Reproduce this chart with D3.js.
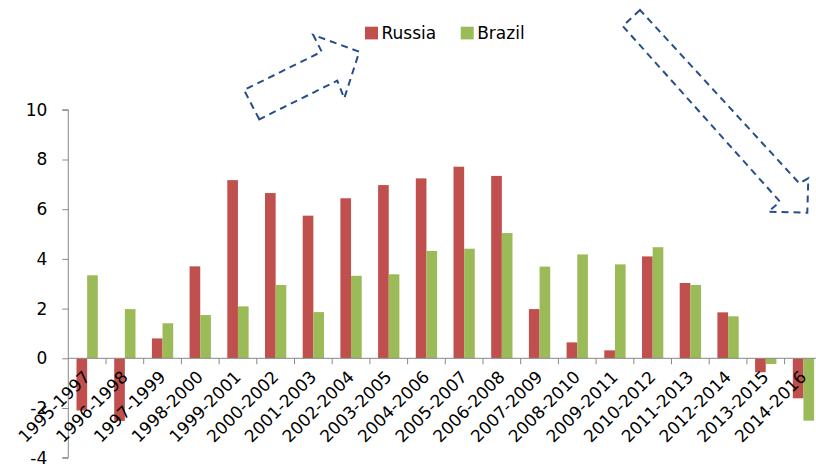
<!DOCTYPE html>
<html>
  <head>
    <meta charset="utf-8">
    <script src="https://d3js.org/d3.v7.min.js"></script>
    <style>
      body { margin: 0; background: #fff; }
      text { font-family: "DejaVu Sans", Verdana, sans-serif; fill: #000; }
    </style>
  </head>
  <body>
  <svg width="816" height="464"></svg>
  <script>

    // chart data
    var categories = ["1995-1997", "1996-1998", "1997-1999", "1998-2000", "1999-2001",
                      "2000-2002", "2001-2003", "2002-2004", "2003-2005", "2004-2006",
                      "2005-2007", "2006-2008", "2007-2009", "2008-2010", "2009-2011",
                      "2010-2012", "2011-2013", "2012-2014", "2013-2015", "2014-2016"];
    var russia = [-2.1, -2.52, 0.8, 3.7, 7.17, 6.65, 5.74, 6.44, 6.97, 7.24,
                  7.71, 7.34, 1.98, 0.64, 0.32, 4.1, 3.03, 1.85, -0.56, -1.61];
    var brazil = [3.34, 1.98, 1.41, 1.74, 2.09, 2.95, 1.86, 3.32, 3.38, 4.32,
                  4.41, 5.04, 3.69, 4.18, 3.78, 4.47, 2.95, 1.69, -0.23, -2.51];
    var seriesNames = ["Russia", "Brazil"];
    var yTicks = [-4, -2, 0, 2, 4, 6, 8, 10];

    var colors = { Russia: "#C0504D", Brazil: "#9BBB59" };
    var axisColor = "#898989";

    var svg = d3.select("svg");

    // scales
    var x0 = d3.scaleBand().domain(categories).range([68.3, 822.3]).padding(0);
    var x1 = d3.scaleBand().domain(seriesNames).range([0, x0.bandwidth()])
      .paddingInner(0).paddingOuter(0.77);
    var y = d3.scaleLinear().domain([-4, 10]).range([457.7, 109.8]);

    var rows = categories.map(function(c, i) {
      return { cat: c, values: [
        { key: "Russia", value: russia[i] },
        { key: "Brazil", value: brazil[i] }
      ]};
    });

    // bars
    var groups = svg.append("g").selectAll("g")
      .data(rows)
      .enter().append("g")
      .attr("transform", function(d) { return "translate(" + x0(d.cat) + ",0)"; });

    groups.selectAll("rect")
      .data(function(d) { return d.values; })
      .enter().append("rect")
      .attr("x", function(d) { return x1(d.key); })
      .attr("y", function(d) { return y(Math.max(0, d.value)); })
      .attr("width", x1.bandwidth())
      .attr("height", function(d) { return Math.abs(y(d.value) - y(0)); })
      .attr("fill", function(d) { return colors[d.key]; });

    // y axis
    var yAxis = svg.append("g")
      .attr("transform", "translate(68.3,0)")
      .call(d3.axisLeft(y).tickValues(yTicks).tickSize(6).tickPadding(15)
        .tickFormat(function(d) { return String(d); }));
    yAxis.selectAll("path, line").attr("stroke", axisColor);
    yAxis.select(".domain").attr("d", "M-6," + y(-4) + "H0V" + y(10) + "H-6");
    yAxis.selectAll("text")
      .style("font-family", "'DejaVu Sans', Verdana, sans-serif")
      .style("font-size", "17px")
      .attr("fill", "#000");

    // x axis line at zero with ticks between categories
    var xAxis = svg.append("g");
    xAxis.append("line")
      .attr("x1", 68.3).attr("x2", 822.3)
      .attr("y1", y(0)).attr("y2", y(0))
      .attr("stroke", axisColor);
    xAxis.selectAll(".tick")
      .data(categories.slice(1))
      .enter().append("line")
      .attr("x1", function(d) { return x0(d); })
      .attr("x2", function(d) { return x0(d); })
      .attr("y1", y(0)).attr("y2", y(0) + 6)
      .attr("stroke", axisColor);

    // rotated category labels
    xAxis.selectAll(".lbl")
      .data(categories)
      .enter().append("text")
      .attr("text-anchor", "end")
      .attr("font-size", "17px")
      .attr("transform", function(d) {
        return "translate(" + (x0(d) + x0.bandwidth() / 2 + 4) + "," + 378 + ") rotate(-45)";
      })
      .text(function(d) { return d; });

    // legend
    var legend = svg.append("g");
    var legendX = [365, 460.7];
    seriesNames.forEach(function(s, i) {
      legend.append("rect")
        .attr("x", legendX[i]).attr("y", 26.7)
        .attr("width", 13).attr("height", 12.7)
        .attr("fill", colors[s]);
      legend.append("text")
        .attr("x", legendX[i] + 16.5).attr("y", 39.3)
        .attr("font-size", "17px")
        .text(s);
    });

    // dashed arrow annotations
    var arrowStyle = function(sel) {
      sel.attr("fill", "none")
        .attr("stroke", "#264F8A")
        .attr("stroke-width", 2)
        .attr("stroke-dasharray", "7,5");
    };
    var arrowUp = [[259.3, 119.3], [244, 90], [321.7, 51.7], [313.3, 35],
                   [359.3, 51.7], [344.3, 98.3], [337.3, 80.7]];
    var arrowDown = [[640, 10], [622.7, 26], [780, 201.7], [768.3, 211.7],
                     [807.3, 212.7], [808.3, 178.3], [799.3, 183.3]];
    var line = d3.line().curve(d3.curveLinearClosed);
    svg.append("path").attr("d", line(arrowUp)).call(arrowStyle);
    svg.append("path").attr("d", line(arrowDown)).call(arrowStyle);

  </script>
  </body>
</html>
